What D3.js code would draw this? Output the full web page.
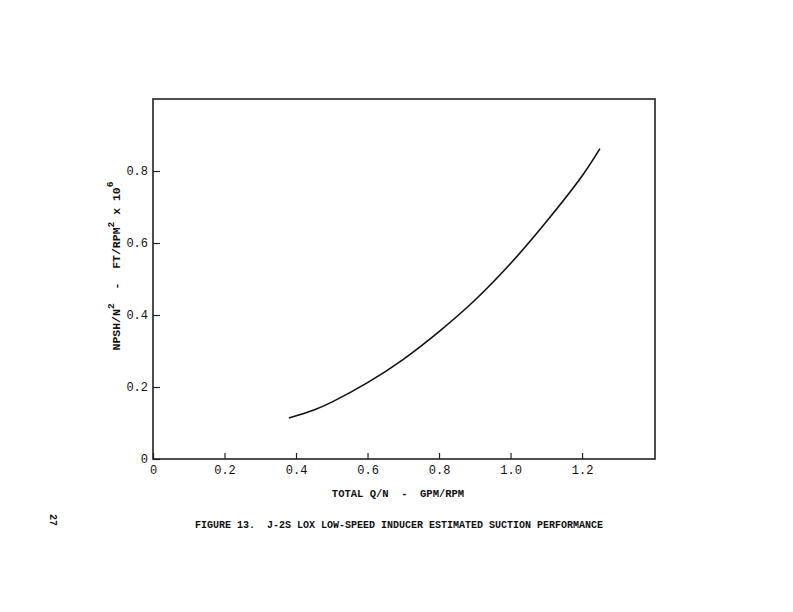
<!DOCTYPE html>
<html>
<head>
<meta charset="utf-8">
<script src="https://cdn.jsdelivr.net/npm/d3@7"></script>
<style>
  body { margin: 0; background: #fff; }
  text { font-family: "Liberation Mono", "DejaVu Sans Mono", monospace; fill: #111; }
</style>
</head>
<body>
<svg id="chart" width="793" height="612"></svg>
<script>
// values
const qn = [0.38, 0.45, 0.50, 0.60, 0.70, 0.80, 0.90, 1.00, 1.10, 1.20, 1.25]
const npsh = [0.114, 0.136, 0.158, 0.212, 0.277, 0.354, 0.441, 0.543, 0.659, 0.786, 0.862]
const xTicks = [0, 0.2, 0.4, 0.6, 0.8, 1.0, 1.2]
const yTicks = [0, 0.2, 0.4, 0.6, 0.8]

const margins = { top: 99, right: 138, bottom: 153, left: 153 }
const width = 793 - margins.left - margins.right
const height = 612 - margins.top - margins.bottom

const svg = d3.select('#chart')
const g = svg.append('g').attr('transform', `translate(${margins.left}, ${margins.top})`)

const x = d3.scaleLinear().domain([0, 1.404]).range([0, width])
const y = d3.scaleLinear().domain([0, 1.0]).range([height, 0])

const fmt = d => d === 0 ? '0' : d3.format('.1f')(d)

// frame
g.append('rect')
	.attr('width', width).attr('height', height)
	.attr('fill', 'none').attr('stroke', '#222').attr('stroke-width', 1.6)

const xAxis = g.append('g')
	.attr('transform', `translate(0, ${height})`)
	.call(d3.axisBottom(x).tickValues(xTicks).tickSizeInner(-6).tickSizeOuter(0).tickPadding(6).tickFormat(fmt))
xAxis.select('.domain').remove()

const yAxis = g.append('g')
	.call(d3.axisLeft(y).tickValues(yTicks).tickSizeInner(-7).tickSizeOuter(0).tickPadding(5).tickFormat(fmt))
yAxis.select('.domain').remove()

svg.selectAll('.tick line').attr('stroke', '#222').attr('stroke-width', 1.2)
svg.selectAll('.tick text').style('font-size', '12px').style('font-family', '"Liberation Mono", monospace').attr('fill', '#111')

// curve
const line = d3.line()
	.x((d, i) => x(qn[i]))
	.y(d => y(d))
	.curve(d3.curveCatmullRom)

g.append('path').datum(npsh)
	.attr('d', line)
	.attr('fill', 'none').attr('stroke', '#111').attr('stroke-width', 1.6)

// axis titles
svg.append('text')
	.attr('x', 398).attr('y', 497)
	.attr('text-anchor', 'middle').style('font-size', '10.5px').style('font-weight', 'bold')
	.attr('xml:space', 'preserve')
	.text('TOTAL Q/N  -  GPM/RPM')

const yLab = svg.append('text')
	.attr('transform', 'translate(120, 266) rotate(-90)')
	.attr('text-anchor', 'middle').style('font-size', '11.5px').style('font-weight', 'bold')
	.attr('xml:space', 'preserve')
yLab.append('tspan').text('NPSH/N')
yLab.append('tspan').attr('dy', -6).style('font-size', '9.5px').text('2')
yLab.append('tspan').attr('dy', 6).text('  -  FT/RPM')
yLab.append('tspan').attr('dy', -6).style('font-size', '9.5px').text('2')
yLab.append('tspan').attr('dy', 6).text(' x 10')
yLab.append('tspan').attr('dy', -7).style('font-size', '9.5px').text('6')

svg.append('text')
	.attr('x', 195).attr('y', 528)
	.style('font-size', '10px').style('font-weight', 'bold')
	.attr('xml:space', 'preserve')
	.attr('textLength', 408)
	.text('FIGURE 13.  J-2S LOX LOW-SPEED INDUCER ESTIMATED SUCTION PERFORMANCE')

svg.append('text')
	.attr('transform', 'translate(50, 520) rotate(90)')
	.attr('text-anchor', 'middle').style('font-size', '10px').style('font-weight', 'bold')
	.text('27')
</script>
</body>
</html>
